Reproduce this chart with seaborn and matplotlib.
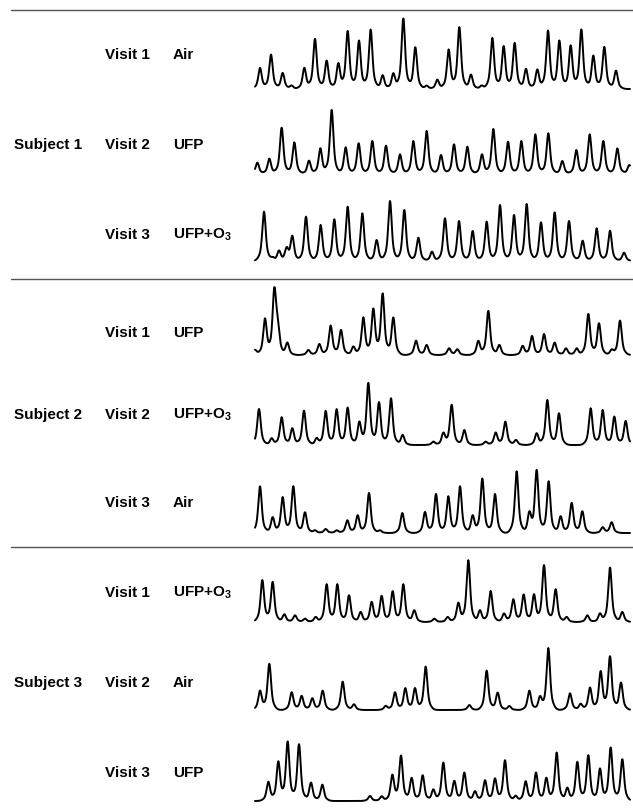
import numpy as np
import pandas as pd
import matplotlib
matplotlib.use("Agg")
import matplotlib.pyplot as plt
from matplotlib.lines import Line2D
import seaborn as sns

sns.set_theme(style="white")
plt.rcParams['font.family'] = ['Liberation Sans', 'DejaVu Sans']
plt.rcParams['mathtext.fontset'] = 'custom'
plt.rcParams['mathtext.rm'] = 'Liberation Sans:bold'
plt.rcParams['mathtext.default'] = 'rm'
plt.rcParams['text.color'] = 'black'

# ---- data: peak times (arbitrary time units) and peak amplitudes ----
subjects = ["Subject 1", "Subject 2", "Subject 3"]
visits = ["Visit 1", "Visit 2", "Visit 3"]
conditions = [["Air", "UFP", "UFP+O$_3$"],
              ["UFP", "UFP+O$_3$", "Air"],
              ["UFP+O$_3$", "Air", "UFP"]]

s1v1_pos = [30, 63, 98, 125, 163, 195, 230, 265, 293, 327, 362, 398, 430, 460, 496, 530, 562, 596, 628, 663, 695, 727, 761, 794, 828, 862, 894, 928, 962, 994, 1030, 1063, 1098]
s1v1_amp = [63, 103, 48, 10, 63, 150, 85, 76, 173, 145, 178, 41, 46, 211, 125, 10, 28, 118, 185, 43, 10, 153, 128, 138, 60, 58, 175, 145, 130, 178, 100, 126, 55]

s1v2_pos = [22, 58, 95, 133, 177, 211, 245, 287, 326, 367, 408, 450, 490, 530, 573, 612, 652, 696, 730, 774, 814, 856, 895, 937, 979, 1019, 1060, 1102, 1138]
s1v2_amp = [34, 46, 139, 95, 40, 77, 192, 80, 92, 99, 85, 59, 99, 129, 57, 89, 82, 59, 135, 97, 99, 119, 122, 39, 72, 119, 99, 77, 27]

s1v3_pos = [42, 68, 87, 110, 127, 168, 212, 253, 293, 337, 380, 420, 463, 505, 546, 585, 627, 668, 710, 750, 792, 830, 873, 914, 957, 998, 1040, 1080, 1122]
s1v3_amp = [148, 8, 30, 35, 73, 133, 108, 125, 163, 143, 63, 180, 153, 70, 28, 128, 120, 90, 118, 168, 138, 171, 116, 146, 120, 61, 98, 91, 25]

s2v1_pos = [15, 45, 73, 83, 112, 175, 208, 242, 273, 310, 340, 370, 398, 430, 498, 530, 597, 622, 685, 715, 748, 818, 846, 882, 914, 948, 980, 1015, 1047, 1085, 1110]
s2v1_amp = [15, 108, 185, 70, 37, 15, 33, 88, 75, 25, 112, 137, 183, 112, 43, 30, 20, 17, 42, 132, 30, 27, 57, 63, 37, 20, 20, 123, 95, 15, 103]

s2v2_pos = [27, 65, 95, 127, 162, 200, 227, 260, 293, 328, 355, 387, 423, 458, 550, 580, 605, 643, 707, 737, 766, 798, 860, 892, 927, 1022, 1058, 1093, 1127]
s2v2_amp = [108, 20, 83, 50, 103, 20, 102, 107, 112, 68, 185, 128, 140, 30, 10, 35, 120, 45, 10, 37, 70, 15, 35, 135, 95, 110, 105, 85, 72]

s2v3_pos = [30, 68, 98, 130, 165, 195, 227, 260, 292, 323, 357, 390, 457, 525, 558, 595, 630, 668, 697, 735, 800, 838, 860, 896, 932, 965, 997, 1058, 1085]
s2v3_amp = [140, 47, 107, 140, 62, 8, 12, 8, 38, 53, 120, 8, 60, 63, 117, 110, 140, 52, 163, 117, 185, 58, 187, 155, 50, 90, 65, 17, 32]

s3v1_pos = [37, 68, 103, 135, 165, 197, 230, 262, 297, 332, 365, 395, 428, 460, 493, 553, 593, 625, 655, 690, 722, 762, 790, 821, 852, 882, 917, 950, 1012, 1050, 1080, 1117]
s3v1_amp = [125, 120, 23, 20, 10, 15, 113, 113, 80, 30, 60, 78, 92, 113, 35, 10, 15, 57, 185, 35, 93, 25, 68, 82, 82, 170, 98, 15, 20, 25, 163, 30]

s3v2_pos = [30, 58, 125, 155, 187, 218, 278, 312, 407, 435, 466, 495, 527, 658, 710, 743, 778, 838, 870, 895, 960, 992, 1020, 1052, 1080, 1113]
s3v2_amp = [57, 138, 53, 42, 35, 58, 85, 17, 12, 53, 65, 65, 130, 15, 118, 52, 12, 58, 38, 185, 50, 18, 67, 115, 160, 82]

s3v3_pos = [55, 85, 113, 147, 183, 217, 360, 395, 427, 453, 485, 518, 550, 580, 613, 643, 675, 705, 735, 765, 797, 827, 858, 889, 920, 952, 982, 1015, 1050, 1082, 1117]
s3v3_amp = [57, 117, 177, 170, 55, 49, 15, 14, 77, 135, 69, 77, 34, 115, 60, 85, 29, 62, 67, 122, 15, 59, 85, 69, 145, 39, 117, 137, 97, 160, 125]

trace_pos = [[s1v1_pos, s1v2_pos, s1v3_pos], [s2v1_pos, s2v2_pos, s2v3_pos], [s3v1_pos, s3v2_pos, s3v3_pos]]
trace_amp = [[s1v1_amp, s1v2_amp, s1v3_amp], [s2v1_amp, s2v2_amp, s2v3_amp], [s3v1_amp, s3v2_amp, s3v3_amp]]

# ---- layout (pixels) ----
W, H = 633, 811
baselines = [[89, 174, 261], [355, 445, 533], [622, 710, 801]]
label_y = [[55, 145, 235], [333, 415, 503], [593, 683, 773]]
sep_y = [10, 279, 547]

fig = plt.figure(figsize=(W / 100, H / 100), dpi=100)
fig.patch.set_facecolor("white")

t = np.arange(15, 1141, 1.0)


def peak_shape(d):
    # sharp tip with a broader foot
    return 0.72 * np.exp(-0.5 * (d / 4.5) ** 2) + 0.28 * np.exp(-0.5 * (d / 11.0) ** 2)


for si in range(3):
    for vi in range(3):
        pos = np.array(trace_pos[si][vi], dtype=float)
        amp = np.array(trace_amp[si][vi], dtype=float)
        sig = (amp[None, :] * peak_shape(t[:, None] - pos[None, :])).sum(axis=1)
        df = pd.DataFrame({"t": t, "signal": sig})
        yb = baselines[si][vi]
        ax = fig.add_axes([250 / W, 1 - (yb + 5) / H, 383 / W, 85 / H])
        sns.lineplot(data=df, x="t", y="signal", ax=ax, color="black",
                     linewidth=1.4, estimator=None, sort=False)
        ax.set_xlim(0, 1149)
        ax.set_ylim(-15, 240)
        ax.axis("off")

        fig.text(105 / W, 1 - label_y[si][vi] / H, visits[vi], fontsize=11,
                 fontweight="bold", va="center", ha="left", color="black")
        fig.text(173 / W, 1 - label_y[si][vi] / H, conditions[si][vi], fontsize=11,
                 fontweight="bold", va="center", ha="left", color="black")
    fig.text(14 / W, 1 - label_y[si][1] / H, subjects[si], fontsize=11,
             fontweight="bold", va="center", ha="left", color="black")

for y in sep_y:
    fig.add_artist(Line2D([11 / W, 1.0], [1 - y / H, 1 - y / H],
                          color="#555555", linewidth=1.0))

fig.savefig("out.png", dpi=100, facecolor="white")
